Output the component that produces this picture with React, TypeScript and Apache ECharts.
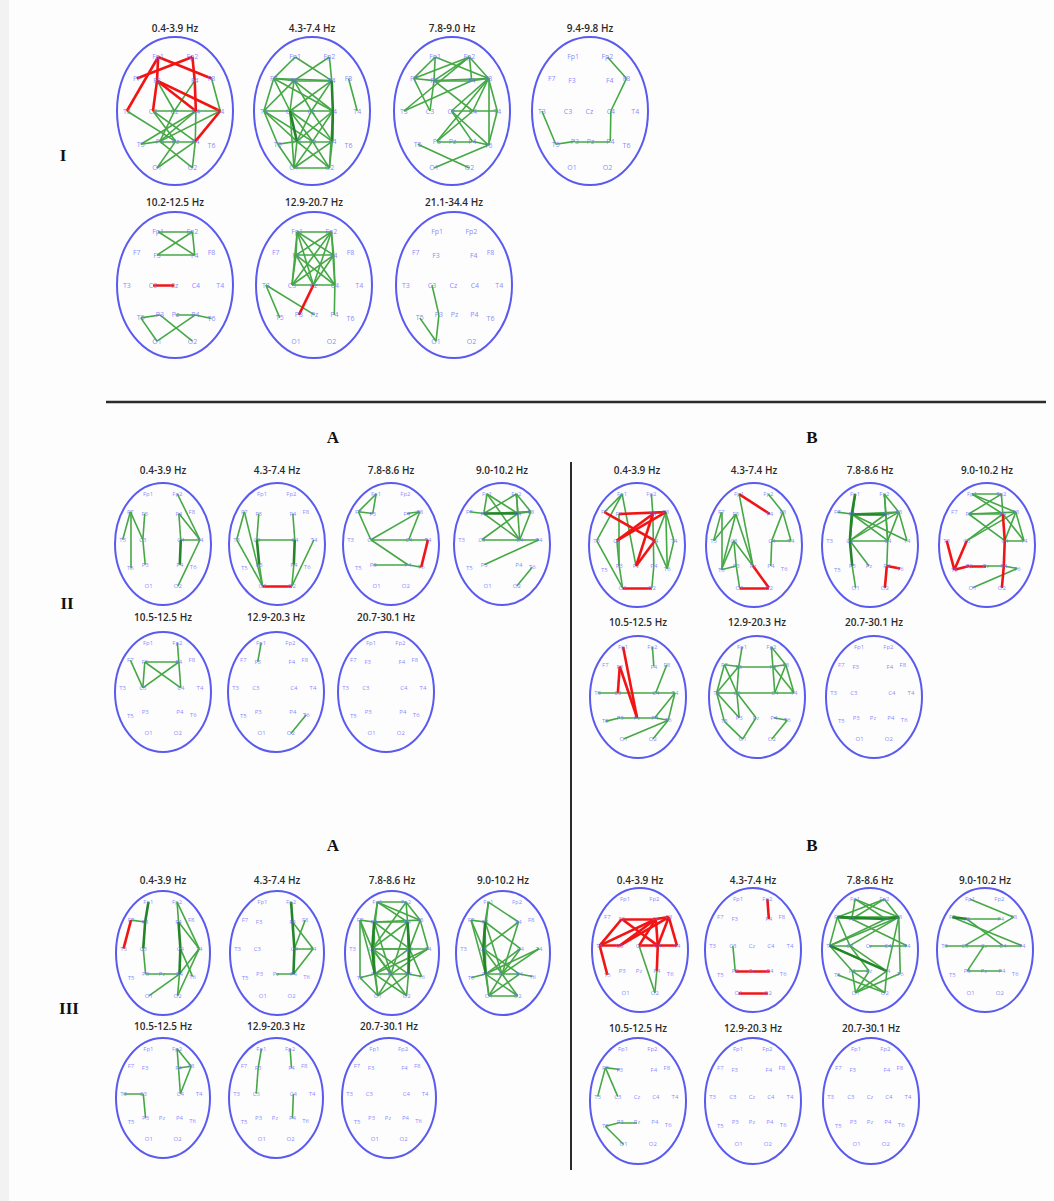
import React, { useEffect, useRef } from "react";
import * as echarts from "echarts";

// ---------- electrodes (normalised head coordinates, x right, y up) ----------
const ELECTRODES = ["Fp1","Fp2","F7","F3","F4","F8","T3","C3","Cz","C4","T4","T5","P3","Pz","P4","T6","O1","O2"];
const POS_I_X = [-0.29, 0.30, -0.66, -0.31, 0.34, 0.63, -0.83, -0.38, -0.01, 0.36, 0.78, -0.59, -0.26, 0.01, 0.35, 0.63, -0.31, 0.30];
const POS_I_Y = [0.73, 0.73, 0.44, 0.41, 0.41, 0.44, 0.0, 0.0, 0.0, 0.0, 0.0, -0.45, -0.41, -0.41, -0.41, -0.46, -0.77, -0.77];
const POS_II_X = [-0.31, 0.30, -0.68, -0.38, 0.33, 0.60, -0.84, -0.42, -0.02, 0.37, 0.77, -0.68, -0.37, -0.02, 0.35, 0.63, -0.30, 0.31];
const POS_II_Y = [0.82, 0.82, 0.53, 0.50, 0.50, 0.53, 0.07, 0.07, 0.07, 0.07, 0.07, -0.40, -0.34, -0.34, -0.34, -0.38, -0.69, -0.69];

// ---------- band titles ----------
const TITLES_I = ["0.4-3.9 Hz","4.3-7.4 Hz","7.8-9.0 Hz","9.4-9.8 Hz","10.2-12.5 Hz","12.9-20.7 Hz","21.1-34.4 Hz"];
const TITLES_II = ["0.4-3.9 Hz","4.3-7.4 Hz","7.8-8.6 Hz","9.0-10.2 Hz","10.5-12.5 Hz","12.9-20.3 Hz","20.7-30.1 Hz"];

// ---------- connections: Section I ----------
const I1_RED = ["Fp1-T3","Fp1-F3","Fp1-F8","Fp2-F7","Fp2-F4","F4-C4","F3-C3","F3-C4","F3-T4","T4-P4"];
const I1_GREEN = ["F4-Cz","F3-Cz","F8-T4","T3-Pz","C3-Cz","Cz-C4","C4-T4","C3-P4","C4-P3","Cz-P3","C4-P4","T4-P3","T5-P3","P3-Pz","Pz-P4","P3-O2","P4-O1","Pz-O1","P4-O2","C3-Pz","C4-T5"];
const I2_GREEN = ["Fp1-F7","Fp1-F4","Fp2-F3","Fp2-F4","F7-F3","F7-C3","F7-T3","F7-F4","F3-F4","F3-C3","F3-C4","F3-Cz","F4-C3","F4-Cz","F8-T4","F7-C4","T3-C3","T3-P3","T3-T5","T3-Pz","C3-Cz","Cz-C4","C3-Pz","C3-P4","Cz-P3","Cz-P4","C4-P3","C4-Pz","T5-P3","P3-Pz","Pz-P4","P3-O1","P3-O2","P4-O1","P4-O2","O1-O2","C3-O1","Pz-O1","Pz-O2","T5-O1","F3-T3","C4-O2"];
const I2_THICK = ["F4-C4","C3-P3","C4-P4"];
const I3_GREEN = ["Fp1-F7","Fp1-F3","Fp1-F8","Fp2-F3","Fp2-F7","Fp2-F8","Fp2-F4","Fp2-T3","F7-F3","F7-C3","F3-F4","F3-F8","F4-F8","F8-C4","F8-T4","F8-Cz","F8-T6","F8-P3","F4-T3","F3-C3","C4-T4","Cz-C4","C4-P3","Cz-T6","T4-T6","P3-Pz","Pz-P4","P4-T6","T5-O2","T6-O1","Cz-P4","F3-C4"];
const I4_GREEN = ["Fp2-F8","F8-C4","C4-P4","T3-T5","T5-P3","P3-Pz","Pz-P4"];
const I5_GREEN = ["Fp1-Fp2","Fp1-F4","Fp2-F3","Fp2-F4","F3-F4","T5-P3","P3-O2","P4-O1","Pz-P4","P4-T6","T5-O1"];
const I5_RED = ["C3-Cz"];
const I6_GREEN = ["Fp1-Fp2","Fp1-F3","Fp1-F4","Fp1-C3","Fp1-Cz","Fp1-C4","Fp2-F3","Fp2-F4","Fp2-C3","Fp2-Cz","Fp2-C4","F3-F4","F3-Cz","F3-C4","F4-C3","F4-Cz","F3-C3","F4-C4","C3-Cz","Cz-C4","T3-T5","T3-Pz","C4-P4"];
const I6_RED = ["Cz-P3"];
const I7_GREEN = ["C3-P3","P3-O1","T5-O1"];

// ---------- connections: Section II A ----------
const IIA1_GREEN = ["F7-T3","F7-C3","F7-T5","F3-C3","C3-P3","Fp2-T4","F4-C4","F4-T4","C4-T4","T4-O2"];
const IIA1_THICK = ["C4-P4"];
const IIA2_GREEN = ["F7-T3","F7-O1","T3-O1","F3-C3","P3-O1","C3-C4","F4-C4","P4-O2","T4-O2"];
const IIA2_THICK = ["C3-P3","C4-P4"];
const IIA2_RED = ["O1-O2"];
const IIA3_GREEN = ["Fp1-F7","Fp1-F3","F7-F3","F7-C3","C3-C4","C4-T4","C3-F8","F4-F8","F8-C4","C3-P4","P3-P4","P4-T6"];
const IIA3_RED = ["T4-T6"];
const IIA4_GREEN = ["Fp1-F3","Fp1-F4","Fp1-C4","Fp2-F3","Fp2-F4","Fp2-F8","Fp2-C4","F7-F3","F3-F8","F3-C4","F4-F8","F8-C4","F4-C3","C3-C4","C4-T4","T4-P3","T6-O2"];
const IIA4_THICK = ["F3-F4"];
const IIA5_GREEN = ["Fp2-F4","F7-C3","F3-C3","F3-F4","F3-C4","F4-C3","F4-C4"];
const IIA6_GREEN = ["Fp1-F3","T6-O2"];

// ---------- connections: Section II B ----------
const IIB1_GREEN = ["Fp1-F7","Fp1-T3","Fp1-Pz","F3-P3","C3-P3","T3-O1","P3-O1","Fp2-F4","F4-P4","P4-O2","F8-C4","F8-T4","F8-T6","C4-T6","T4-T6"];
const IIB1_RED = ["F7-C4","C3-F4","C3-F8","F3-F8","F4-Pz","C4-Pz","O1-O2"];
const IIB2_GREEN = ["Fp1-Pz","F7-T3","F7-T5","F3-T3","F3-T5","F3-Pz","C3-T5","C3-P3","C3-Pz","P3-O1","Fp2-F8","F8-C4","F8-T4","C4-T4","C4-P4","T5-P3"];
const IIB2_RED = ["Fp1-F4","Pz-O2","O1-O2"];
const IIB3_GREEN = ["Fp1-C3","F7-F3","F3-F8","F3-C4","F3-T4","C3-F4","C3-F8","F4-F8","F8-T4","Fp2-F4","Fp2-F8","Fp2-C4","F8-C4","C3-Pz","P3-O1","C4-P4","C3-C4","F4-C4"];
const IIB3_THICK = ["Fp1-F3","F3-F4","F3-C3","C3-P3"];
const IIB3_RED = ["P4-O2","P4-T6"];
const IIB4_GREEN = ["Fp1-Fp2","Fp1-F4","Fp1-F8","Fp2-F3","Fp2-F4","F3-F4","F3-F8","F3-C4","C3-F4","C3-F8","F4-T4","F8-T4","F8-C4","C4-T4","Pz-P4","P4-T6","T6-O1"];
const IIB4_RED = ["F4-C4","C4-P4","T3-T5","C3-T5","T5-P3","P3-Pz","P4-O2"];
const IIB5_GREEN = ["Fp2-F4","F8-C4","T3-C3","C3-C4","C4-T4","T4-T6","T4-P4","T5-P3","P3-Pz","Pz-P4","P4-T6","T6-O1","T6-O2"];
const IIB5_RED = ["Fp1-Pz","F3-C3","F3-Pz"];
const IIB6_GREEN = ["Fp1-F3","F7-F3","F3-F4","F4-F8","Fp2-F4","Fp2-F8","F7-T3","F7-C3","F3-T3","F3-C3","T3-C3","C3-C4","C4-T4","F4-C4","F4-T4","F8-C4","F8-T4","T3-P3","C3-P3","C3-Pz","T5-O1","Pz-O1","P4-T6","T6-O2","T3-T5"];

// ---------- connections: Section III A ----------
const IIIA1_GREEN = ["F7-F3","C3-P3","P3-Pz","Pz-P4","P4-O1","Fp2-F4","Fp2-T4","F4-T4","C4-T6","T4-P4","P4-O2","T4-O2"];
const IIIA1_THICK = ["Fp1-F3","F3-C3","F4-C4","C4-P4"];
const IIIA1_RED = ["F7-T3"];
const IIIA2_GREEN = ["F4-T4","F8-C4","C4-T4","T4-P4","Pz-P4"];
const IIIA2_THICK = ["Fp2-F4","F4-C4","C4-P4"];
const IIIA3_GREEN = ["Fp1-Fp2","Fp1-F3","Fp1-C3","Fp1-F8","Fp1-F4","Fp2-F4","Fp2-F8","Fp2-C3","F7-F3","F7-C3","F7-P3","F7-T5","F3-F4","F3-F8","F3-P3","F3-C4","F3-Pz","F4-C3","F4-P4","F4-Pz","F8-C4","F8-T4","C3-C4","C3-Pz","C3-P4","C3-T4","C3-O1","C3-O2","C4-P3","C4-T6","T4-P3","T4-Pz","T5-P3","P3-Pz","Pz-P4","P3-O1","P3-O2","Pz-O1","P4-O1","P4-O2","T5-O1","P4-T6"];
const IIIA3_THICK = ["F3-C3","C3-P3","F4-C4","C4-P4"];
const IIIA4_GREEN = ["Fp1-F3","Fp1-C3","Fp1-F4","F7-F3","F7-C3","F7-P3","F3-P3","F3-C4","F3-Pz","F4-C3","F4-Pz","C3-Pz","C3-P4","C3-O1","C4-P3","C4-Pz","T4-P3","T4-Pz","T5-P3","P3-Pz","Pz-P4","P4-T6","P3-O1","P3-O2","Pz-O1","Pz-O2","P4-O1","O1-O2"];
const IIIA4_THICK = ["F3-C3","C3-P3"];
const IIIA5_GREEN = ["Fp2-F4","Fp2-F8","F4-F8","F4-C4","F8-C4","T3-C3","C3-P3"];
const IIIA6_GREEN = ["Fp1-F3","F3-C3","Fp2-F4","C4-P4"];

// ---------- connections: Section III B ----------
const IIIB1_GREEN = ["Cz-O2","P4-O2"];
const IIIB1_RED = ["F3-F4","T3-F3","T3-F4","T3-C3","T3-T5","C3-F4","C3-F8","F3-C4","F4-F8","F4-C4","F8-C4","Cz-C4","C4-T4","F8-T4","C4-P4","Cz-F4"];
const IIIB2_GREEN = ["C3-P3"];
const IIIB2_RED = ["Fp2-F4","P3-Pz","Pz-P4","O1-O2"];
const IIIB3_GREEN = ["Fp1-F3","Fp1-F4","Fp1-F8","Fp2-F7","Fp2-F3","Fp2-F8","F7-F3","F7-F4","F7-F8","F7-T3","F7-C3","F3-F8","F3-T4","F4-T3","F8-T3","F8-C3","F8-P4","F8-T6","T3-C3","T3-P3","T3-P4","C3-P4","Cz-C4","C4-T4","C3-Pz","P3-Pz","P3-O2","P3-O1","Pz-O1","P4-O1","P4-O2","T5-O2","T6-O1"];
const IIIB3_THICK = ["F4-F8","F7-F4","T3-P4"];
const IIIB4_GREEN = ["Fp1-F8","F3-F4","F7-T4","F8-C3","F3-C4","T3-C3","C3-Cz","Cz-C4","C4-T4","Cz-P3","P3-Pz","Pz-P4"];
const IIIB4_THICK = ["F7-F3"];
const IIIB5_GREEN = ["F7-F3","F7-T3","F7-C3","T5-P3","P3-Pz","T5-O1"];

const NONE: string[] = [];

// ---------- head layout (pixels) ----------
type Spot = { cx: number; cy: number; rx: number; ry: number; ty: number };
function row(xs: number[], cy: number, rx: number, ry: number, ty: number): Spot[] {
  return xs.map((cx) => ({ cx, cy, rx, ry, ty }));
}
const SPOTS_I = [...row([175, 312, 452, 590], 111, 58, 74, 28), ...row([175, 314, 454], 285, 58, 73, 202)];
const SPOTS_IIA = [...row([163, 277, 391, 502], 544, 48, 61, 470), ...row([163, 276, 386], 692, 48, 60, 617)];
const SPOTS_IIB = [...row([637, 754, 870, 987], 545, 48, 62, 470), ...row([638, 757, 874], 697, 48, 61, 622)];
const SPOTS_IIIA = [...row([163, 277, 392, 503], 953, 47, 62, 880), ...row([163, 276, 389], 1098, 47, 60, 1026)];
const SPOTS_IIIB = [...row([640, 753, 870, 985], 950, 48, 62, 880), ...row([638, 753, 871], 1101, 48, 63, 1028)];

const NO_CZ_PZ = ELECTRODES.filter((e) => e !== "Cz" && e !== "Pz");
const NO_CZ = ELECTRODES.filter((e) => e !== "Cz");

type Group = {
  spots: Spot[];
  titles: string[];
  green: string[][];
  thick: string[][];
  red: string[][];
  shown: string[];
  px: number[];
  py: number[];
  labelSize: number;
};

const GROUPS: Group[] = [
  {
    spots: SPOTS_I, titles: TITLES_I,
    green: [I1_GREEN, I2_GREEN, I3_GREEN, I4_GREEN, I5_GREEN, I6_GREEN, I7_GREEN],
    thick: [NONE, I2_THICK, NONE, NONE, NONE, NONE, NONE],
    red: [I1_RED, NONE, NONE, NONE, I5_RED, I6_RED, NONE],
    shown: ELECTRODES, px: POS_I_X, py: POS_I_Y, labelSize: 7,
  },
  {
    spots: SPOTS_IIA, titles: TITLES_II,
    green: [IIA1_GREEN, IIA2_GREEN, IIA3_GREEN, IIA4_GREEN, IIA5_GREEN, IIA6_GREEN, NONE],
    thick: [IIA1_THICK, IIA2_THICK, NONE, IIA4_THICK, NONE, NONE, NONE],
    red: [NONE, IIA2_RED, IIA3_RED, NONE, NONE, NONE, NONE],
    shown: NO_CZ_PZ, px: POS_II_X, py: POS_II_Y, labelSize: 6,
  },
  {
    spots: SPOTS_IIB, titles: TITLES_II,
    green: [IIB1_GREEN, IIB2_GREEN, IIB3_GREEN, IIB4_GREEN, IIB5_GREEN, IIB6_GREEN, NONE],
    thick: [NONE, NONE, IIB3_THICK, NONE, NONE, NONE, NONE],
    red: [IIB1_RED, IIB2_RED, IIB3_RED, IIB4_RED, IIB5_RED, NONE, NONE],
    shown: NO_CZ, px: POS_II_X, py: POS_II_Y, labelSize: 6,
  },
  {
    spots: SPOTS_IIIA, titles: TITLES_II,
    green: [IIIA1_GREEN, IIIA2_GREEN, IIIA3_GREEN, IIIA4_GREEN, IIIA5_GREEN, IIIA6_GREEN, NONE],
    thick: [IIIA1_THICK, IIIA2_THICK, IIIA3_THICK, IIIA4_THICK, NONE, NONE, NONE],
    red: [IIIA1_RED, NONE, NONE, NONE, NONE, NONE, NONE],
    shown: NO_CZ, px: POS_II_X, py: POS_II_Y, labelSize: 6,
  },
  {
    spots: SPOTS_IIIB, titles: TITLES_II,
    green: [IIIB1_GREEN, IIIB2_GREEN, IIIB3_GREEN, IIIB4_GREEN, IIIB5_GREEN, NONE, NONE],
    thick: [NONE, NONE, IIIB3_THICK, IIIB4_THICK, NONE, NONE, NONE],
    red: [IIIB1_RED, IIIB2_RED, NONE, NONE, NONE, NONE, NONE],
    shown: ELECTRODES, px: POS_II_X, py: POS_II_Y, labelSize: 6,
  },
];

const GREEN = "#45a845";
const GREEN_DARK = "#23842a";
const RED = "#f21414";
const HEAD_BLUE = "#5a5af0";
const LABEL_BLUE = "#6a6aff";

function buildOption() {
  const grid: any[] = [];
  const xAxis: any[] = [];
  const yAxis: any[] = [];
  const series: any[] = [];
  const graphic: any[] = [];

  graphic.push({ type: "rect", shape: { x: 0, y: 0, width: 9, height: 1201 }, style: { fill: "#f2f2f2" }, silent: true });

  let gi = 0;
  GROUPS.forEach((g) => {
    const idx = (name: string) => ELECTRODES.indexOf(name);
    g.spots.forEach((s, h) => {
      grid.push({ left: s.cx - s.rx, top: s.cy - s.ry, width: s.rx * 2, height: s.ry * 2, containLabel: false });
      xAxis.push({ type: "value", gridIndex: gi, min: -1, max: 1, show: false });
      yAxis.push({ type: "value", gridIndex: gi, min: -1, max: 1, show: false });

      series.push({
        type: "custom", xAxisIndex: gi, yAxisIndex: gi, silent: true, clip: false, z: 1,
        data: [[0, 0]],
        renderItem: (_p: any, api: any) => {
          const c = api.coord([0, 0]);
          const sz = api.size([1, 1]);
          return {
            type: "ellipse",
            shape: { cx: c[0], cy: c[1], rx: sz[0], ry: sz[1] },
            style: { fill: "none", stroke: HEAD_BLUE, lineWidth: 2 },
          };
        },
      });

      const toLine = (pair: string) => {
        const [a, b] = pair.split("-");
        return { coords: [[g.px[idx(a)], g.py[idx(a)]], [g.px[idx(b)], g.py[idx(b)]]] };
      };
      series.push({
        type: "lines", coordinateSystem: "cartesian2d", xAxisIndex: gi, yAxisIndex: gi, silent: true, z: 3,
        lineStyle: { color: GREEN, width: 1.6, opacity: 1 },
        data: g.green[h].map(toLine),
      });
      series.push({
        type: "lines", coordinateSystem: "cartesian2d", xAxisIndex: gi, yAxisIndex: gi, silent: true, z: 3,
        lineStyle: { color: GREEN_DARK, width: 2.6, opacity: 1 },
        data: g.thick[h].map(toLine),
      });
      series.push({
        type: "lines", coordinateSystem: "cartesian2d", xAxisIndex: gi, yAxisIndex: gi, silent: true, z: 4,
        lineStyle: { color: RED, width: 2.6, opacity: 1 },
        data: g.red[h].map(toLine),
      });

      series.push({
        type: "scatter", xAxisIndex: gi, yAxisIndex: gi, silent: true, z: 6,
        symbolSize: 1, itemStyle: { color: "rgba(0,0,0,0)" },
        label: { show: true, position: "inside", formatter: "{b}", color: LABEL_BLUE, fontSize: g.labelSize, fontFamily: "Open Sans" },
        data: g.shown.map((e) => ({ name: e, value: [g.px[idx(e)], g.py[idx(e)]] })),
      });

      graphic.push({
        type: "text", x: s.cx, y: s.ty, silent: true,
        style: { text: g.titles[h], fill: "#2a2a2a", fontSize: 10, fontFamily: "Open Sans", fontWeight: 600, align: "center", verticalAlign: "middle" },
      });
      gi++;
    });
  });

  const serif = "'Liberation Serif', 'DejaVu Serif', serif";
  const secLabel = (text: string, x: number, y: number, size: number) => ({
    type: "text", x, y, silent: true,
    style: { text, fill: "#111", fontSize: size, fontFamily: serif, fontWeight: "bold", align: "center", verticalAlign: "middle" },
  });
  graphic.push(secLabel("I", 63, 155, 17));
  graphic.push(secLabel("II", 67, 603, 17));
  graphic.push(secLabel("III", 69, 1008, 17));
  graphic.push(secLabel("A", 333, 437, 17));
  graphic.push(secLabel("B", 812, 437, 17));
  graphic.push(secLabel("A", 333, 845, 17));
  graphic.push(secLabel("B", 812, 845, 17));
  graphic.push({ type: "line", silent: true, shape: { x1: 106, y1: 402, x2: 1046, y2: 402 }, style: { stroke: "#2b2b2b", lineWidth: 2.5 } });
  graphic.push({ type: "line", silent: true, shape: { x1: 571, y1: 462, x2: 571, y2: 1170 }, style: { stroke: "#2b2b2b", lineWidth: 2 } });

  return { animation: false, backgroundColor: "#fdfdfd", grid, xAxis, yAxis, series, graphic };
}

export default function App() {
  const ref = useRef<HTMLDivElement>(null);
  useEffect(() => {
    document.body.style.margin = "0";
    if (!ref.current) return;
    const chart = echarts.init(ref.current, undefined, { renderer: "svg" });
    chart.setOption(buildOption() as any);
    return () => chart.dispose();
  }, []);
  return <div ref={ref} style={{ width: 1054, height: 1201 }} />;
}
